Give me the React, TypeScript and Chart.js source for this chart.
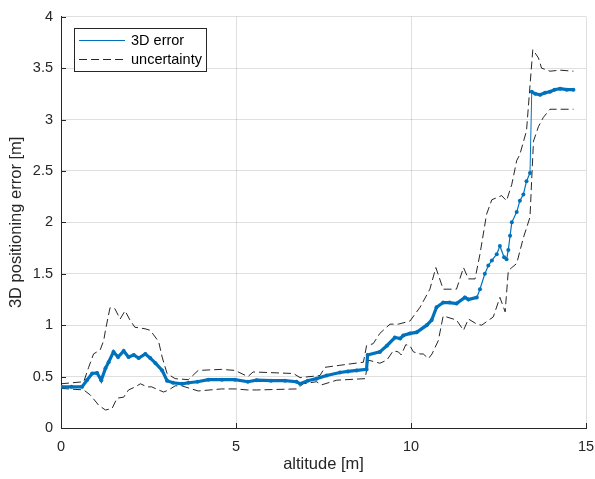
import React, { useEffect, useRef } from 'react';
import { Chart, registerables } from 'chart.js';

Chart.register(...registerables);

// ---- data ----
const errAlt = [0.0, 0.3, 0.6, 0.74, 0.89, 1.03, 1.15, 1.27, 1.36, 1.5, 1.63, 1.79, 1.93, 2.08, 2.22, 2.41, 2.55, 2.7, 2.89, 3.03, 3.2, 3.46, 3.64, 3.9, 4.21, 4.6, 4.97, 5.34, 5.59, 6.0, 6.4, 6.73, 6.83, 7.05, 7.3, 7.59, 7.97, 8.2, 8.45, 8.73, 8.76, 9.11, 9.31, 9.54, 9.69, 9.78, 9.97, 10.16, 10.45, 10.59, 10.73, 10.92, 11.1, 11.3, 11.54, 11.64, 11.88, 11.97, 12.11, 12.21, 12.31, 12.45, 12.54, 12.66, 12.73, 12.78, 12.83, 12.88, 13.02, 13.11, 13.21, 13.3, 13.4, 13.45, 13.55, 13.69, 13.83, 13.97, 14.1, 14.26, 14.45, 14.64];
const errVal = [0.40, 0.40, 0.40, 0.465, 0.53, 0.535, 0.465, 0.58, 0.64, 0.74, 0.69, 0.75, 0.69, 0.71, 0.68, 0.72, 0.68, 0.63, 0.56, 0.46, 0.44, 0.43, 0.44, 0.45, 0.47, 0.47, 0.47, 0.45, 0.465, 0.46, 0.46, 0.45, 0.43, 0.46, 0.48, 0.51, 0.54, 0.55, 0.56, 0.57, 0.71, 0.74, 0.80, 0.88, 0.87, 0.90, 0.92, 0.93, 1.0, 1.05, 1.175, 1.22, 1.22, 1.21, 1.27, 1.25, 1.27, 1.35, 1.50, 1.58, 1.63, 1.69, 1.77, 1.66, 1.64, 1.73, 1.87, 2.0, 2.10, 2.21, 2.27, 2.40, 2.48, 3.27, 3.25, 3.24, 3.26, 3.27, 3.29, 3.30, 3.29, 3.29];

const upAlt = [0.0, 0.65, 0.79, 0.93, 1.12, 1.22, 1.27, 1.4, 1.54, 1.69, 1.83, 1.97, 2.11, 2.4, 2.55, 2.79, 2.89, 3.03, 3.26, 3.64, 3.92, 4.59, 4.97, 5.34, 5.49, 6.64, 6.83, 7.4, 7.54, 7.97, 8.64, 8.73, 8.92, 9.11, 9.4, 9.64, 9.97, 10.26, 10.54, 10.71, 10.92, 11.3, 11.5, 11.64, 11.83, 11.97, 12.16, 12.31, 12.59, 12.73, 12.88, 13.02, 13.11, 13.3, 13.48, 13.64, 13.73, 13.97, 14.26, 14.64];
const upVal = [0.43, 0.45, 0.59, 0.72, 0.76, 0.85, 0.95, 1.17, 1.16, 1.06, 1.14, 1.05, 0.98, 0.965, 0.95, 0.84, 0.69, 0.53, 0.48, 0.47, 0.56, 0.57, 0.56, 0.50, 0.545, 0.53, 0.49, 0.51, 0.59, 0.61, 0.64, 0.80, 0.82, 0.92, 1.01, 1.01, 1.04, 1.175, 1.35, 1.56, 1.35, 1.35, 1.56, 1.45, 1.45, 1.69, 2.08, 2.22, 2.26, 2.21, 2.37, 2.60, 2.66, 2.89, 3.68, 3.60, 3.50, 3.47, 3.48, 3.47];

const loAlt = [0.0, 0.65, 0.84, 1.08, 1.27, 1.46, 1.6, 1.79, 1.93, 2.12, 2.27, 2.46, 2.59, 2.79, 2.93, 3.08, 3.26, 3.45, 3.92, 4.59, 4.97, 5.34, 5.59, 6.73, 6.92, 7.3, 7.45, 7.88, 8.69, 8.78, 9.11, 9.31, 9.49, 9.64, 9.72, 9.85, 9.97, 10.07, 10.26, 10.35, 10.5, 10.6, 10.78, 10.92, 11.3, 11.5, 11.64, 11.88, 12.02, 12.35, 12.54, 12.69, 12.78, 12.88, 13.02, 13.21, 13.4, 13.45, 13.5, 13.64, 13.78, 13.97, 14.64];
const loVal = [0.385, 0.37, 0.32, 0.22, 0.175, 0.19, 0.29, 0.30, 0.37, 0.40, 0.43, 0.40, 0.40, 0.37, 0.35, 0.37, 0.41, 0.41, 0.36, 0.38, 0.38, 0.37, 0.37, 0.38, 0.43, 0.45, 0.42, 0.465, 0.48, 0.66, 0.63, 0.66, 0.75, 0.74, 0.71, 0.81, 0.80, 0.74, 0.72, 0.72, 0.675, 0.72, 0.85, 1.09, 1.05, 0.95, 1.06, 1.01, 1.0, 1.08, 1.27, 1.13, 1.53, 1.56, 1.60, 1.85, 2.05, 2.43, 2.79, 2.93, 3.02, 3.10, 3.10];

const xTicks = [0, 5, 10, 15];
const yTicks = [0, 0.5, 1, 1.5, 2, 2.5, 3, 3.5, 4];
const xLabel = 'altitude [m]';
const yLabel = '3D positioning error [m]';
const seriesNames = ['3D error', 'uncertainty'];

const FONT = "'Liberation Sans', Arial, sans-serif";
const AXIS = '#262626';
const GRID = 'rgba(38,38,38,0.15)';
const BLUE = '#0072BD';
const DASH_COLOR = 'rgba(0,0,0,0.85)';
const DASH = [8, 4];

const toXY = (xs: number[], ys: number[]) => xs.map((x, i) => ({ x, y: ys[i] }));

const innerTicks = {
  id: 'innerTicks',
  afterDatasetsDraw(chart: any) {
    const { ctx, chartArea, scales } = chart;
    ctx.save();
    ctx.strokeStyle = AXIS;
    ctx.lineWidth = 1;
    ctx.beginPath();
    xTicks.forEach((v) => {
      const px = Math.round(scales.x.getPixelForValue(v)) + 0.5;
      ctx.moveTo(px, chartArea.bottom);
      ctx.lineTo(px, chartArea.bottom - 5);
    });
    yTicks.forEach((v) => {
      const py = Math.round(scales.y.getPixelForValue(v)) + 0.5;
      ctx.moveTo(chartArea.left, py);
      ctx.lineTo(chartArea.left + 5, py);
    });
    ctx.stroke();
    ctx.restore();
  },
};

const legendBox = {
  id: 'legendBox',
  afterDraw(chart: any) {
    const { ctx } = chart;
    const x0 = 74.5, y0 = 28.5, w = 132, h = 43;
    ctx.save();
    ctx.fillStyle = '#ffffff';
    ctx.fillRect(x0, y0, w, h);
    ctx.strokeStyle = AXIS;
    ctx.lineWidth = 1;
    ctx.setLineDash([]);
    ctx.strokeRect(x0, y0, w, h);
    const rows = [40, 59];
    ctx.strokeStyle = BLUE;
    ctx.lineWidth = 1;
    ctx.beginPath();
    ctx.moveTo(79, rows[0] + 0.5);
    ctx.lineTo(125, rows[0] + 0.5);
    ctx.stroke();
    ctx.strokeStyle = DASH_COLOR;
    ctx.setLineDash(DASH);
    ctx.beginPath();
    ctx.moveTo(79, rows[1] + 0.5);
    ctx.lineTo(125, rows[1] + 0.5);
    ctx.stroke();
    ctx.setLineDash([]);
    ctx.fillStyle = '#000000';
    ctx.font = `14.5px ${FONT}`;
    ctx.textBaseline = 'middle';
    ctx.textAlign = 'left';
    ctx.fillText(seriesNames[0], 131, rows[0] + 1);
    ctx.fillText(seriesNames[1], 131, rows[1] + 1);
    ctx.restore();
  },
};

export default function App() {
  const ref = useRef<HTMLCanvasElement>(null);
  useEffect(() => {
    document.body.style.margin = '0';
    const canvas = ref.current!;
    const chart = new Chart(canvas, {
      type: 'line',
      data: {
        datasets: [
          {
            label: seriesNames[0],
            data: toXY(errAlt, errVal),
            borderColor: BLUE,
            backgroundColor: BLUE,
            borderWidth: 1,
            pointRadius: 2,
            pointHoverRadius: 2,
            pointBorderWidth: 0,
            pointBackgroundColor: BLUE,
            tension: 0,
            segment: {
              borderWidth: (c: any) => {
                const x0 = c.p0.parsed.x, x1 = c.p1.parsed.x;
                const dy = Math.abs(c.p1.parsed.y - c.p0.parsed.y);
                if (dy > 0.5) return 1;
                return x1 <= 11.95 || x0 >= 13.45 ? 3.2 : 1.2;
              },
            },
            order: 0,
          },
          {
            label: seriesNames[1],
            data: toXY(upAlt, upVal),
            borderColor: DASH_COLOR,
            borderWidth: 1,
            borderDash: DASH,
            pointRadius: 0,
            tension: 0,
            order: 1,
          },
          {
            label: seriesNames[1] + ' (lower)',
            data: toXY(loAlt, loVal),
            borderColor: DASH_COLOR,
            borderWidth: 1,
            borderDash: DASH,
            pointRadius: 0,
            tension: 0,
            order: 1,
          },
        ],
      },
      options: {
        animation: false,
        responsive: false,
        devicePixelRatio: 1,
        layout: { padding: { left: 0, top: 15, right: 0, bottom: 0 } },
        plugins: { legend: { display: false }, tooltip: { enabled: false } },
        scales: {
          x: {
            type: 'linear',
            min: 0,
            max: 15,
            afterBuildTicks: (s: any) => { s.ticks = xTicks.map((v) => ({ value: v })); },
            afterFit: (s: any) => { s.height = 51; s.paddingRight = 9; },
            grid: { color: GRID, drawTicks: false },
            border: { color: AXIS, width: 1 },
            ticks: {
              color: AXIS,
              font: { family: FONT, size: 14.5 },
              padding: 10,
              maxRotation: 0,
              callback: (v: any) => String(v),
            },
            title: {
              display: true,
              text: xLabel,
              color: AXIS,
              font: { family: FONT, size: 16.5 },
              padding: { top: 0, bottom: 5 },
            },
          },
          y: {
            type: 'linear',
            min: 0,
            max: 4,
            afterBuildTicks: (s: any) => { s.ticks = yTicks.map((v) => ({ value: v })); },
            afterFit: (s: any) => { s.width = 61; },
            grid: { color: GRID, drawTicks: false },
            border: { color: AXIS, width: 1 },
            ticks: {
              color: AXIS,
              font: { family: FONT, size: 14.5 },
              padding: 8,
              callback: (v: any) => String(v),
            },
            title: {
              display: true,
              text: yLabel,
              color: AXIS,
              font: { family: FONT, size: 16.5 },
              padding: { top: 7, bottom: 0 },
            },
          },
        },
      },
      plugins: [innerTicks, legendBox],
    });
    return () => chart.destroy();
  }, []);
  return (
    <div style={{ position: 'absolute', left: 0, top: 0, width: 595, height: 479, background: '#ffffff' }}>
      <canvas ref={ref} width={595} height={479} style={{ display: 'block' }} />
    </div>
  );
}
